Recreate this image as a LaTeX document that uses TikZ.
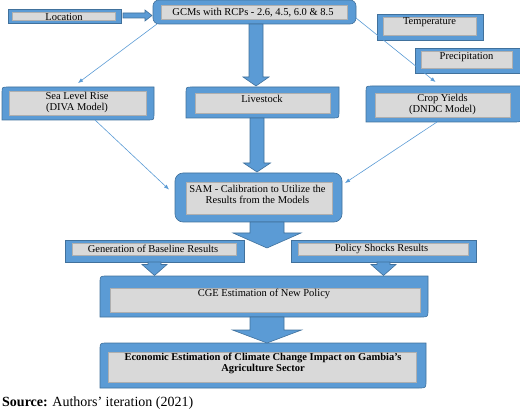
\documentclass[tikz,border=0pt]{standalone}
\usepackage{fontspec}
\setmainfont{Liberation Serif}
\usetikzlibrary{calc,arrows.meta}
\definecolor{blueA}{RGB}{91,155,213}
\definecolor{blueD}{RGB}{65,113,156}
\definecolor{grayA}{RGB}{217,217,217}
\definecolor{grayL}{RGB}{175,175,175}
\tikzset{
 frame/.style={draw=blueD, fill=blueA, line width=0.6pt, inner sep=0pt, outer sep=0pt},
 frameslot/.style={draw=none, fill=none, inner sep=0pt, outer sep=0pt},
 framepath/.style={draw=blueD, fill=blueA, line width=0.6pt},
 innerbox/.style={draw=grayL, fill=grayA, line width=0.4pt, inner sep=0pt, outer sep=0pt},
 txt/.style={font=\fontsize{10.5}{11}\selectfont, inner sep=0pt, align=center},
 blockarrow/.style={draw=blueD, fill=blueA, line width=0.6pt, line join=miter},
 thinarrow/.style={draw=blueA, line width=0.6pt, -{Latex[length=5pt,width=4pt]}},
}
\newcommand{\diagframe}[2]{\draw[framepath] ([yshift=-#2pt]#1.north west) .. controls (#1.north west) .. ([xshift=#2pt]#1.north west) -- (#1.north east) -- ([yshift=#2pt]#1.south east) .. controls (#1.south east) .. ([xshift=-#2pt]#1.south east) -- (#1.south west) -- cycle;}
\newcommand{\blockdown}[5]{\draw[blockarrow] let \p1=#1, \p2=#2 in ({\x1-#3pt},\y1) -- ({\x1-#3pt},{\y2+#5pt}) -- ({\x1-#4pt},{\y2+#5pt}) -- (\x1,\y2) -- ({\x1+#4pt},{\y2+#5pt}) -- ({\x1+#3pt},{\y2+#5pt}) -- ({\x1+#3pt},\y1) -- cycle;}
\newcommand{\blockright}[5]{\draw[blockarrow] let \p1=#1, \p2=#2 in (\x1,{\y1+#3pt}) -- ({\x2-#5pt},{\y1+#3pt}) -- ({\x2-#5pt},{\y1+#4pt}) -- (\x2,\y1) -- ({\x2-#5pt},{\y1-#4pt}) -- ({\x2-#5pt},{\y1-#3pt}) -- (\x1,{\y1-#3pt}) -- cycle;}
\begin{document}
\begin{tikzpicture}[x=1pt,y=-1pt]
\useasboundingbox (0,0) rectangle (520,417);
% frames
\node[frame, minimum width=113pt, minimum height=14pt] (loc) at (64.5,16) {};
\node[frame, rounded corners=6pt, minimum width=203pt, minimum height=24pt] (gcm) at (254.5,12) {};
\node[frame, minimum width=106pt, minimum height=26pt] (temp) at (430,27) {};
\node[frame, minimum width=106pt, minimum height=25pt] (prec) at (468,60.5) {};
\node[frameslot, minimum width=152pt, minimum height=33pt] (sea) at (78,103.5) {};
\diagframe{sea}{6}
\node[frameslot, minimum width=153pt, minimum height=31pt] (live) at (262.5,102.5) {};
\diagframe{live}{6}
\node[frameslot, minimum width=155pt, minimum height=36pt] (crop) at (443.5,104) {};
\diagframe{crop}{6}
\node[frame, rounded corners=8pt, minimum width=167pt, minimum height=49pt] (sam) at (258.5,197.5) {};
\node[frame, minimum width=179pt, minimum height=22pt] (gen) at (154.5,251) {};
\node[frame, minimum width=185pt, minimum height=22pt] (pol) at (383.5,251) {};
\node[frameslot, minimum width=328pt, minimum height=41pt] (cge) at (264,296.5) {};
\diagframe{cge}{7}
\node[frameslot, minimum width=326pt, minimum height=45pt] (eco) at (263,365.5) {};
\diagframe{eco}{7}
% inner gray boxes
\node[innerbox, minimum width=103pt, minimum height=8pt] (locG) at (63.5,16) {};
\node[innerbox, minimum width=186pt, minimum height=14pt] (gcmG) at (254,12) {};
\node[innerbox, minimum width=93pt, minimum height=18pt] (tempG) at (429.5,26) {};
\node[innerbox, minimum width=91pt, minimum height=17pt] (precG) at (466.5,59.5) {};
\node[innerbox, minimum width=137pt, minimum height=24pt] (seaG) at (77.5,103) {};
\node[innerbox, minimum width=135pt, minimum height=20pt] (liveG) at (262.5,103) {};
\node[innerbox, minimum width=135pt, minimum height=24pt] (cropG) at (442.5,105) {};
\node[innerbox, minimum width=146pt, minimum height=32pt] (samG) at (259,198) {};
\node[innerbox, minimum width=164pt, minimum height=12pt] (genG) at (154,249) {};
\node[innerbox, minimum width=170pt, minimum height=12pt] (polG) at (383,249) {};
\node[innerbox, minimum width=310pt, minimum height=24pt] (cgeG) at (265,300) {};
\node[innerbox, minimum width=308pt, minimum height=30pt] (ecoG) at (262,367) {};
% texts
\node[txt] (locT) at (64,17) {Location};
\node[txt] (gcmT) at (253,13) {GCMs with RCPs - 2.6, 4.5, 6.0 \& 8.5};
\node[txt] (tempT) at (429.5,22) {Temperature};
\node[txt] (precT) at (466.5,57) {Precipitation};
\node[txt] (seaT) at (77,102.5) {Sea Level Rise\\(DIVA Model)};
\node[txt] (liveT) at (262,98.5) {Livestock};
\node[txt] (cropT) at (442.5,104.5) {Crop Yields\\(DNDC Model)};
\node[txt] (samT) at (257.5,194) {SAM - Calibration to Utilize the\\Results from the Models};
\node[txt] (genT) at (153,249) {Generation of Baseline Results};
\node[txt] (polT) at (381.5,249) {Policy Shocks Results};
\node[txt] (cgeT) at (264,294) {CGE Estimation of New Policy};
\node[txt, font=\fontsize{10.5}{11}\selectfont\bfseries] (ecoT) at (263,363.5) {Economic Estimation of Climate Change Impact on Gambia’s\\Agriculture Sector};
\node[anchor=west, inner sep=0pt, font=\fontsize{14}{16}\selectfont] (src) at (2,403) {\textbf{Source:} Authors’ iteration (2021)};
% block arrows
\coordinate (splitpt) at (267,248);
\blockright{([xshift=2pt,yshift=0.5pt]loc.east)}{([xshift=-1pt]gcm.west)}{2.5}{5.5}{7}
\blockdown{([xshift=1.5pt]gcm.south)}{([yshift=1pt]live.north)}{7}{13}{9}
\blockdown{([xshift=-5.5pt]live.south)}{([yshift=1pt]sam.north)}{7}{13.5}{9}
\blockdown{([xshift=8.5pt]sam.south)}{(splitpt)}{17}{34}{15}
\blockdown{(gen.south)}{([yshift=0.5pt]cge.north)}{6.5}{12.5}{11}
\blockdown{(pol.south)}{([yshift=0.5pt]cge.north)}{6.5}{12.5}{11}
\blockdown{([xshift=3pt]cge.south)}{(eco.north)}{17}{34.5}{13}
% thin connectors
\draw[thinarrow] ([xshift=4pt]gcm.south west) -- ([yshift=4pt]sea.north);
\draw[thinarrow] ([yshift=-6pt]gcm.east) -- ([xshift=-8pt,yshift=4pt]crop.north);
\draw[thinarrow] ([xshift=17pt]sea.south) -- ([xshift=-6pt,yshift=8pt]sam.west);
\draw[thinarrow] ([xshift=-6.5pt]crop.south) -- ([xshift=3pt,yshift=14.5pt]sam.east);
\end{tikzpicture}
\end{document}
